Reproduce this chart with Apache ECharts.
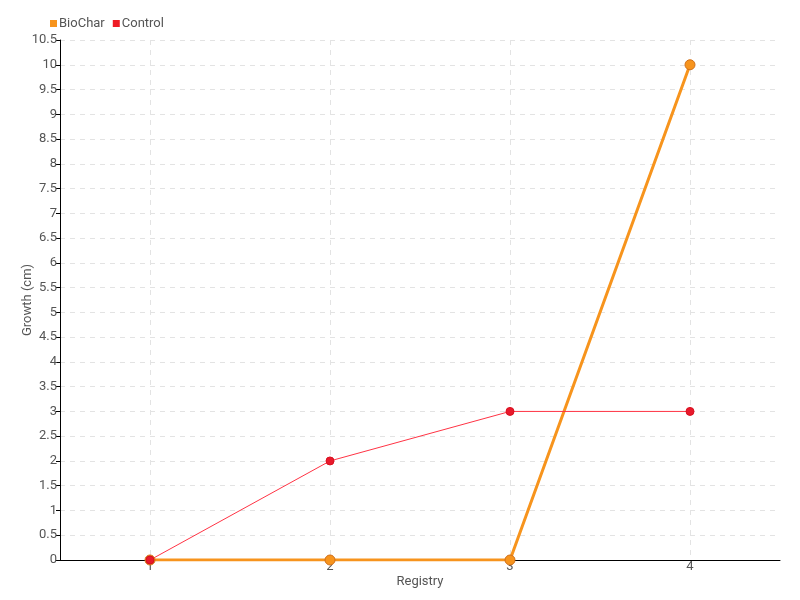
<!DOCTYPE html>
<html><head><meta charset="utf-8">
<script src="https://cdn.jsdelivr.net/npm/echarts@6/dist/echarts.min.js"></script>
<style>html,body{margin:0;padding:0;background:#fff}#c{width:800px;height:600px}</style>
</head><body><div id="c"></div>
<script>
const categories = ['1', '2', '3', '4'];
const bioChar = [0, 0, 0, 10];
const control = [0, 2, 3, 3];
const FONT = 'Roboto, sans-serif';
const chart = echarts.init(document.getElementById('c'));
chart.setOption({
  animation: false,
  textStyle: { fontFamily: FONT },
  legend: {
    left: 45, top: 12, itemWidth: 7, itemHeight: 7, itemGap: 8,
    icon: 'rect',
    textStyle: { color: '#555', fontSize: 13, fontFamily: FONT, padding: [0, 0, 0, -3] },
    data: [{ name: 'BioChar', itemStyle: { color: '#f7941d', borderWidth: 0 } },
           { name: 'Control', itemStyle: { color: '#ee1c25', borderWidth: 0 } }]
  },
  grid: { left: 60, right: 20, top: 40, bottom: 40, containLabel: false, outerBoundsMode: 'none' },
  xAxis: {
    type: 'category', data: categories, boundaryGap: true,
    name: 'Registry', nameLocation: 'middle', nameGap: 15, nameMoveOverlap: false,
    nameTextStyle: { color: '#555', fontSize: 13, fontFamily: FONT },
    axisLine: { lineStyle: { color: '#000', width: 1 } },
    axisTick: { alignWithLabel: true, length: -5, lineStyle: { color: '#000' } },
    axisLabel: { color: '#555', fontSize: 13, margin: 0, fontFamily: FONT },
    splitLine: { show: true, alignWithLabel: true, lineStyle: { type: [5, 5], color: '#e3e3e3' } }
  },
  yAxis: {
    type: 'value', min: 0, max: 10.5, interval: 0.5,
    name: 'Growth (cm)', nameLocation: 'middle', nameGap: 26, nameMoveOverlap: false,
    nameTextStyle: { color: '#555', fontSize: 13, fontFamily: FONT },
    axisLine: { show: true, lineStyle: { color: '#000', width: 1 } },
    axisTick: { show: true, length: 4, lineStyle: { color: '#000' } },
    axisLabel: { color: '#555', fontSize: 13, margin: 3, fontFamily: FONT },
    splitLine: { show: true, lineStyle: { type: [5, 5], color: '#e3e3e3' } }
  },
  series: [
    {
      name: 'BioChar', type: 'line', data: bioChar,
      symbol: 'circle', symbolSize: 10,
      lineStyle: { color: '#f7941d', width: 3 },
      itemStyle: { color: '#f7941d', borderColor: '#d0701a', borderWidth: 1 }
    },
    {
      name: 'Control', type: 'line', data: control,
      symbol: 'circle', symbolSize: 8,
      lineStyle: { color: '#ff3344', width: 1 },
      itemStyle: { color: '#e8192c', borderColor: '#d8101e', borderWidth: 1 }
    }
  ]
});
</script></body></html>
